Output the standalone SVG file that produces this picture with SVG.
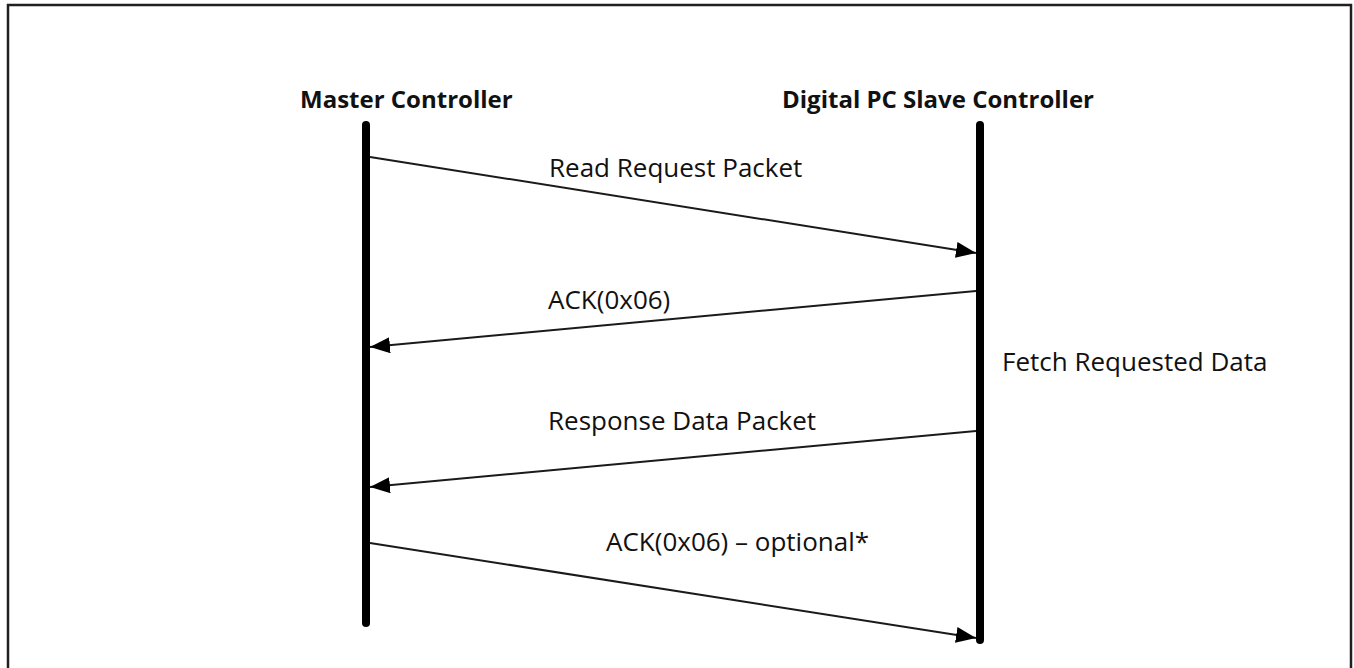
<svg xmlns="http://www.w3.org/2000/svg" width="1354" height="668" viewBox="0 0 1354 668">
<defs>
<style>
.frame{fill:none;stroke:#231f20;stroke-width:2.5}
.life{stroke:#000;stroke-width:8;stroke-linecap:round}
.msg{stroke:#1a1a1a;stroke-width:2;fill:none}
.hdr{font-family:"Open Sans","Noto Sans",sans-serif;font-weight:bold;font-size:24px;fill:#111}
.lbl{font-family:"Open Sans","Noto Sans",sans-serif;font-size:26px;fill:#111}
</style>
<marker id="ah" markerUnits="userSpaceOnUse" markerWidth="20" markerHeight="16" viewBox="0 0 20 16" refX="20" refY="8" orient="auto">
<path d="M0,0 L20,8 L0,16 Z" fill="#000"/>
</marker>
</defs>
<rect width="1354" height="668" fill="#fff"/>
<rect class="frame" x="8" y="5" width="1343" height="680"/>
<g id="master">
<text class="hdr" x="300" y="108">Master Controller</text>
<line class="life" x1="366" y1="125" x2="366" y2="623"/>
</g>
<g id="slave">
<text class="hdr" x="782" y="108">Digital PC Slave Controller</text>
<line class="life" x1="980" y1="125" x2="980" y2="640"/>
</g>
<g id="note">
<text class="lbl" x="1002" y="371">Fetch Requested Data</text>
</g>
<g id="connectors">
<line class="msg" x1="370" y1="157" x2="976" y2="253" marker-end="url(#ah)"/>
<text class="lbl" x="549" y="177">Read Request Packet</text>
<line class="msg" x1="976" y1="291" x2="370" y2="347" marker-end="url(#ah)"/>
<text class="lbl" x="548" y="309">ACK(0x06)</text>
<line class="msg" x1="976" y1="431" x2="370" y2="487" marker-end="url(#ah)"/>
<text class="lbl" x="548" y="430">Response Data Packet</text>
<line class="msg" x1="370" y1="543" x2="976" y2="638" marker-end="url(#ah)"/>
<text class="lbl" x="606" y="551">ACK(0x06) – optional*</text>
</g>
</svg>
